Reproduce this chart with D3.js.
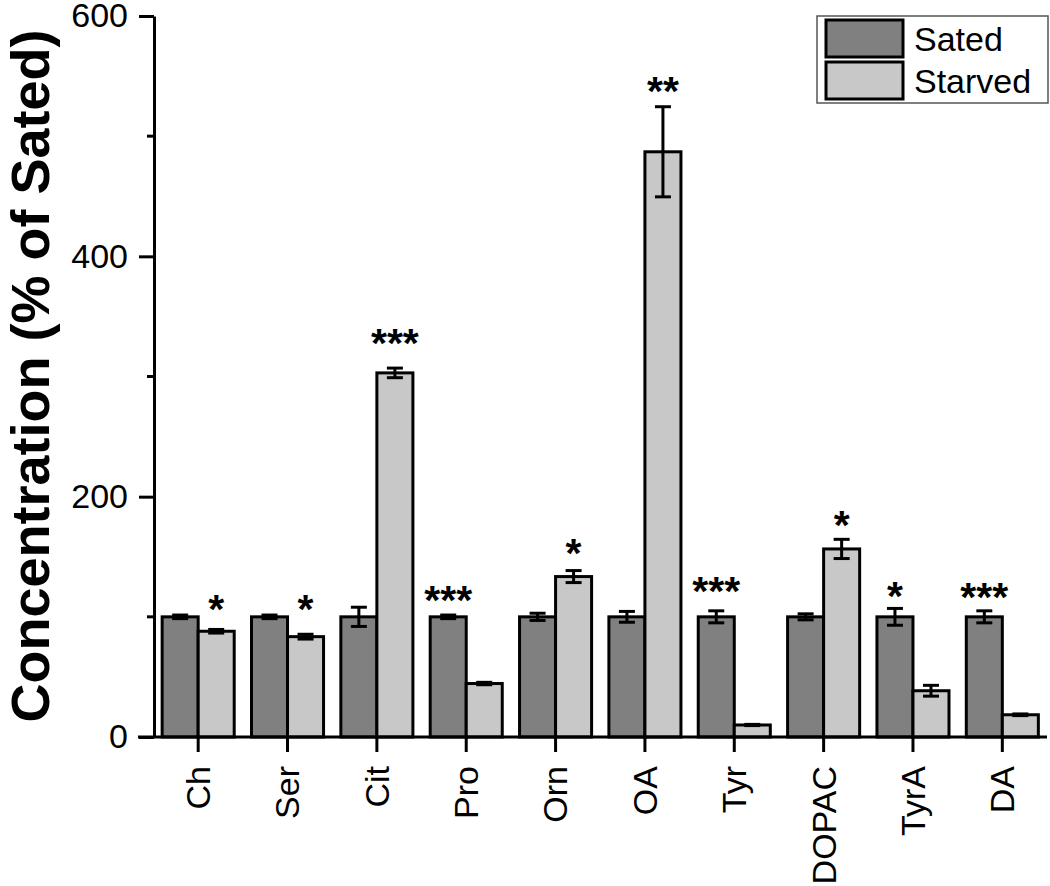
<!DOCTYPE html>
<html>
<head>
<meta charset="utf-8">
<script src="https://cdn.jsdelivr.net/npm/d3@7"></script>
<style>
  body { margin: 0; background: #fff; }
  text { font-family: Arial, "Liberation Sans", sans-serif; }
</style>
</head>
<body>
<div id="chart"></div>
<script>
// Data
var categories = ["Ch", "Ser", "Cit", "Pro", "Orn", "OA", "Tyr", "DOPAC", "TyrA", "DA"];
var series = ["Sated", "Starved"];
var satedValues = [100, 100, 100, 100, 100, 100, 100, 100, 100, 100];
var satedErrors = [1.5, 1.5, 8, 1.5, 3, 4.5, 5, 2.5, 7, 5];
var starvedValues = [88, 83.5, 303, 44.5, 133.5, 487, 10, 156.5, 38.5, 18.5];
var starvedErrors = [1.5, 2, 4, 1, 5, 37.5, 0.5, 8, 4.5, 0.7];
var sigLabels = ["*", "*", "***", "***", "*", "**", "***", "*", "*", "***"];
var sigBars = ["Starved", "Starved", "Starved", "Sated", "Starved", "Starved", "Sated", "Starved", "Sated", "Sated"];
var sigLevels = [114, 114, 336, 122, 161, 545, 129, 184.5, 125.5, 124];
var yTicks = [0, 200, 400, 600];
var yMinorTicks = [100, 300, 500];
var colors = {"Sated": "#808080", "Starved": "#c8c8c8"};

var width = 1050, height = 886;

var svg = d3.select("#chart").append("svg")
    .attr("width", width)
    .attr("height", height);

// Scales
var x0 = d3.scaleBand()
    .domain(categories)
    .range([153.5, 1047])
    .padding(0);

var x1 = d3.scaleBand()
    .domain(series)
    .range([0, x0.bandwidth()])
    .paddingOuter(0.24);

var y = d3.scaleLinear()
    .domain([0, 600])
    .range([737, 16]);

// Build rows
var rows = categories.map(function(c, i) {
    return {
        cat: c,
        bars: [
            {key: "Sated", value: satedValues[i], err: satedErrors[i]},
            {key: "Starved", value: starvedValues[i], err: starvedErrors[i]}
        ],
        sig: sigLabels[i],
        sigBar: sigBars[i],
        sigLevel: sigLevels[i]
    };
});

var groups = svg.append("g")
    .selectAll("g")
    .data(rows)
    .join("g")
    .attr("transform", function(d) { return "translate(" + x0(d.cat) + ",0)"; });

// Bars
groups.selectAll("rect")
    .data(function(d) { return d.bars; })
    .join("rect")
    .attr("x", function(d) { return x1(d.key); })
    .attr("y", function(d) { return y(d.value); })
    .attr("width", x1.bandwidth())
    .attr("height", function(d) { return y(0) - y(d.value); })
    .attr("fill", function(d) { return colors[d.key]; })
    .attr("stroke", "#000")
    .attr("stroke-width", 3);

// Error bars
var capW = 8;
var err = groups.selectAll("g.err")
    .data(function(d) { return d.bars; })
    .join("g")
    .attr("class", "err")
    .attr("stroke", "#000")
    .attr("stroke-width", 3);

err.append("line")
    .attr("x1", function(d) { return x1(d.key) + x1.bandwidth() / 2; })
    .attr("x2", function(d) { return x1(d.key) + x1.bandwidth() / 2; })
    .attr("y1", function(d) { return y(d.value + d.err); })
    .attr("y2", function(d) { return y(d.value - d.err); });

err.selectAll("line.cap")
    .data(function(d) { return [d.value + d.err, d.value - d.err].map(function(v) { return {key: d.key, v: v}; }); })
    .join("line")
    .attr("class", "cap")
    .attr("x1", function(d) { return x1(d.key) + x1.bandwidth() / 2 - capW; })
    .attr("x2", function(d) { return x1(d.key) + x1.bandwidth() / 2 + capW; })
    .attr("y1", function(d) { return y(d.v); })
    .attr("y2", function(d) { return y(d.v); });

// Significance stars
var starSize = 41;
groups.append("text")
    .attr("x", function(d) { return x1(d.sigBar) + x1.bandwidth() / 2; })
    .attr("y", function(d) { return y(d.sigLevel) + starSize * 0.57; })
    .attr("text-anchor", "middle")
    .style("font-size", starSize + "px")
    .style("font-weight", "bold")
    .text(function(d) { return d.sig; });

// X axis
var xAxis = svg.append("g")
    .attr("transform", "translate(0," + y(0) + ")")
    .call(d3.axisBottom(x0).tickSize(15).tickSizeOuter(0));
xAxis.select(".domain").remove();
xAxis.append("line")
    .attr("x1", 138).attr("x2", 1047)
    .attr("y1", 0).attr("y2", 0)
    .attr("stroke", "#000").attr("stroke-width", 3);
xAxis.selectAll(".tick line").attr("stroke-width", 3);
xAxis.selectAll(".tick text")
    .attr("transform", "rotate(-90)")
    .attr("x", -29)
    .attr("y", 0)
    .attr("dy", "0.35em")
    .attr("text-anchor", "end")
    .attr("fill", "#000")
    .style("font-size", "34px")
    .style("font-family", "Arial, 'Liberation Sans', sans-serif");

// Y axis
var yAxis = svg.append("g")
    .attr("transform", "translate(154,0)")
    .call(d3.axisLeft(y).tickValues(yTicks).tickSize(15).tickSizeOuter(0).tickPadding(11));
yAxis.select(".domain").attr("stroke-width", 3);
yAxis.selectAll(".tick line").attr("stroke-width", 3);
yAxis.selectAll(".tick text")
    .attr("fill", "#000")
    .style("font-size", "34px")
    .style("font-family", "Arial, 'Liberation Sans', sans-serif");

// Minor ticks
svg.append("g")
    .selectAll("line")
    .data(yMinorTicks)
    .join("line")
    .attr("x1", 147).attr("x2", 154)
    .attr("y1", function(d) { return y(d); })
    .attr("y2", function(d) { return y(d); })
    .attr("stroke", "#000")
    .attr("stroke-width", 3);

// Y axis label
svg.append("text")
    .attr("transform", "rotate(-90)")
    .attr("x", -376)
    .attr("y", 30)
    .attr("dy", "0.35em")
    .attr("text-anchor", "middle")
    .style("font-size", "54px")
    .style("font-weight", "bold")
    .text("Concentration (% of Sated)");

// Legend
var legend = svg.append("g").attr("transform", "translate(817,16)");
legend.append("rect")
    .attr("width", 231).attr("height", 87)
    .attr("fill", "#fff")
    .attr("stroke", "#555")
    .attr("stroke-width", 1.5);

var li = legend.selectAll("g.item")
    .data(series)
    .join("g")
    .attr("class", "item")
    .attr("transform", function(d, i) { return "translate(9," + (4 + i * 42) + ")"; });

li.append("rect")
    .attr("width", 77).attr("height", 37)
    .attr("fill", function(d) { return colors[d]; })
    .attr("stroke", "#000")
    .attr("stroke-width", 3);

li.append("text")
    .attr("x", 88)
    .attr("y", 19)
    .attr("dy", "0.35em")
    .style("font-size", "34px")
    .text(function(d) { return d; });
</script>
</body>
</html>
